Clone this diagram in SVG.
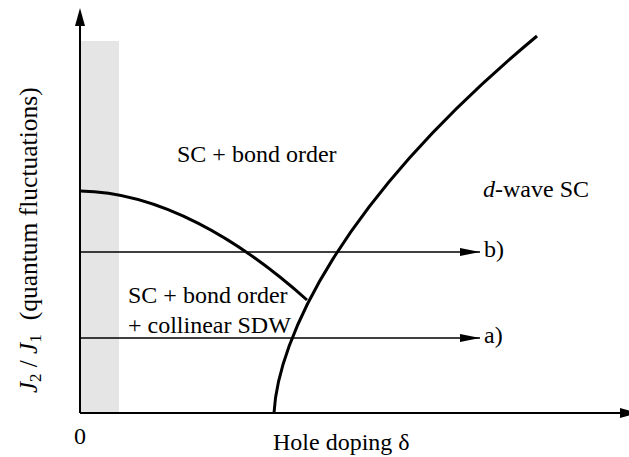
<svg xmlns="http://www.w3.org/2000/svg" width="629" height="457" viewBox="0 0 629 457">
<style>
text{font-family:'Liberation Serif','Times New Roman','DejaVu Serif',serif;font-size:24px;fill:#000}
.ax{stroke:#000;stroke-width:2;fill:none}
.cv{stroke:#000;stroke-width:3;fill:none}
.hl{stroke:#000;stroke-width:1.3;fill:none}
</style>
<defs>
<marker id="ah" markerWidth="20" markerHeight="8" refX="20" refY="4" orient="auto" markerUnits="userSpaceOnUse">
<path d="M0,0 L20,4 L0,8 Z" fill="#000"/>
</marker>
</defs>
<rect id="shade" x="81" y="41" width="38" height="372" fill="#e5e5e5"/>
<g id="axes">
<line class="ax" x1="80" y1="413" x2="80" y2="24"/>
<path d="M80,8 L85,26 L75,26 Z" fill="#000"/>
<line class="ax" x1="80" y1="413" x2="622" y2="413"/>
<path d="M638,413 L620,418 L620,408 Z" fill="#000"/>
</g>
<g id="connectors">
<path id="dome" class="cv" d="M80,191 C160,192 240,240 307,300"/>
<path id="boundary" class="cv" d="M274,413 C278,340 340,200 537,36"/>
<line class="hl" x1="80" y1="252" x2="480" y2="252" marker-end="url(#ah)"/>
<line class="hl" x1="80" y1="338" x2="480" y2="338" marker-end="url(#ah)"/>
</g>
<g font-family="Liberation Serif, Times New Roman, serif">
<g id="label-bond"><text x="177" y="162">SC + bond order</text></g>
<g id="label-dwave"><text x="483" y="197"><tspan font-style="italic">d</tspan>-wave SC</text></g>
<g id="label-sdw"><text x="128" y="302.5">SC + bond order</text><text x="128" y="332.5">+ collinear SDW</text></g>
<g id="label-b"><text x="484" y="257">b)</text></g>
<g id="label-a"><text x="484" y="343">a)</text></g>
<g id="label-zero"><text x="74" y="444">0</text></g>
<g id="label-x"><text x="273" y="450">Hole doping δ</text></g>
<g id="label-y"><text transform="translate(37,393) rotate(-90)" style="font-size:25px"><tspan font-style="italic">J</tspan><tspan style="font-size:17px" dy="4">2</tspan><tspan dy="-4"> / </tspan><tspan font-style="italic">J</tspan><tspan style="font-size:17px" dy="4">1</tspan><tspan dy="-4" dx="14" style="font-size:25.5px">(quantum fluctuations)</tspan></text></g>
</g>
</svg>
